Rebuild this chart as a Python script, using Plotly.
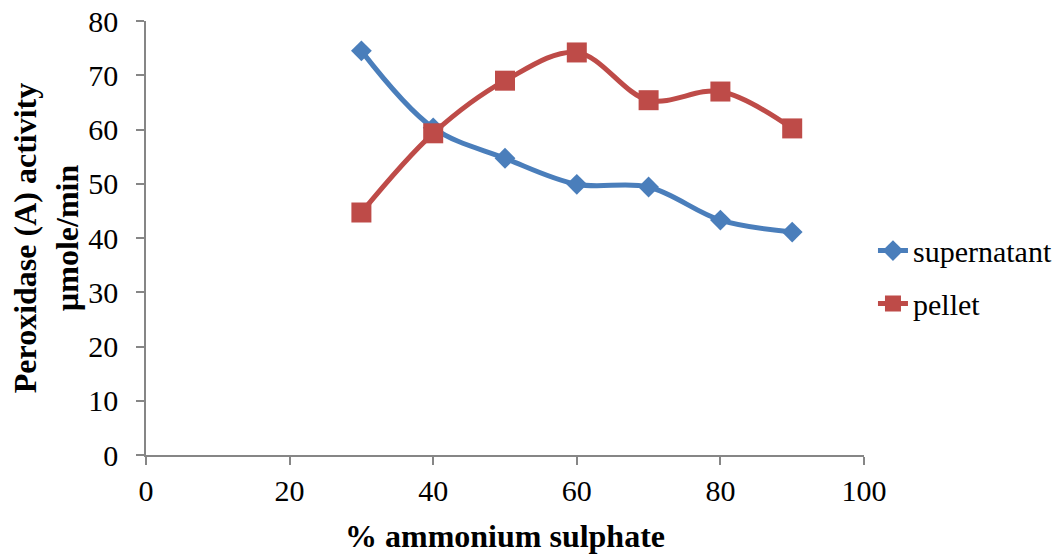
import plotly.graph_objects as go

# % ammonium sulphate saturation
ammonium_pct = [30, 40, 50, 60, 70, 80, 90]
# Peroxidase (A) activity, µmole/min
supernatant = [74.5, 60.3, 54.7, 49.9, 49.4, 43.3, 41.1]
pellet = [44.7, 59.3, 69.0, 74.2, 65.4, 67.0, 60.2]

x_ticks = [0, 20, 40, 60, 80, 100]
y_ticks = [0, 10, 20, 30, 40, 50, 60, 70, 80]

BLUE = "#4A7EBB"
RED = "#BE4B48"
AXIS = "#868686"
FONT = "Liberation Serif"

fig = go.Figure()
fig.add_trace(go.Scatter(
    x=ammonium_pct, y=supernatant, name="supernatant",
    mode="lines+markers", legendgroup="a",
    line=dict(color=BLUE, width=5, shape="spline", smoothing=1),
    marker=dict(symbol="diamond", size=16, color=BLUE),
))
fig.add_trace(go.Scatter(
    x=ammonium_pct, y=pellet, name="pellet",
    mode="lines+markers", legendgroup="b",
    line=dict(color=RED, width=5, shape="spline", smoothing=1),
    marker=dict(symbol="square", size=20, color=RED),
))

fig.update_layout(
    width=1064, height=556,
    margin=dict(l=146, r=200, t=21, b=101, autoexpand=False),
    paper_bgcolor="white", plot_bgcolor="white",
    font=dict(family=FONT, size=30, color="black"),
    showlegend=True,
    legend=dict(
        x=1.0125, xanchor="left", y=0.41, yanchor="middle",
        traceorder="grouped", tracegroupgap=11,
        font=dict(family=FONT, size=30, color="black"),
        bgcolor="rgba(0,0,0,0)",
    ),
)

fig.update_xaxes(
    range=[0, 100], tickvals=x_ticks, ticktext=[str(v) for v in x_ticks],
    showgrid=False, zeroline=False,
    showline=True, linecolor=AXIS, linewidth=1.5,
    ticks="outside", ticklen=8, tickcolor=AXIS, tickwidth=1.5,
    tickfont=dict(family=FONT, size=30),
    title=dict(text="<b>% ammonium sulphate</b>", font=dict(family=FONT, size=32), standoff=19),
)
fig.update_yaxes(
    range=[0, 80], tickvals=y_ticks, ticktext=[str(v) for v in y_ticks],
    showgrid=False, zeroline=False,
    showline=True, linecolor=AXIS, linewidth=1.5,
    ticks="outside", ticklen=8, tickcolor=AXIS, tickwidth=1.5,
    ticklabelstandoff=12,
    tickfont=dict(family=FONT, size=30),
    title=dict(text="<b>Peroxidase (A) activity<br>µmole/min</b>", font=dict(family=FONT, size=32), standoff=0),
)

fig.write_html("out.html")
